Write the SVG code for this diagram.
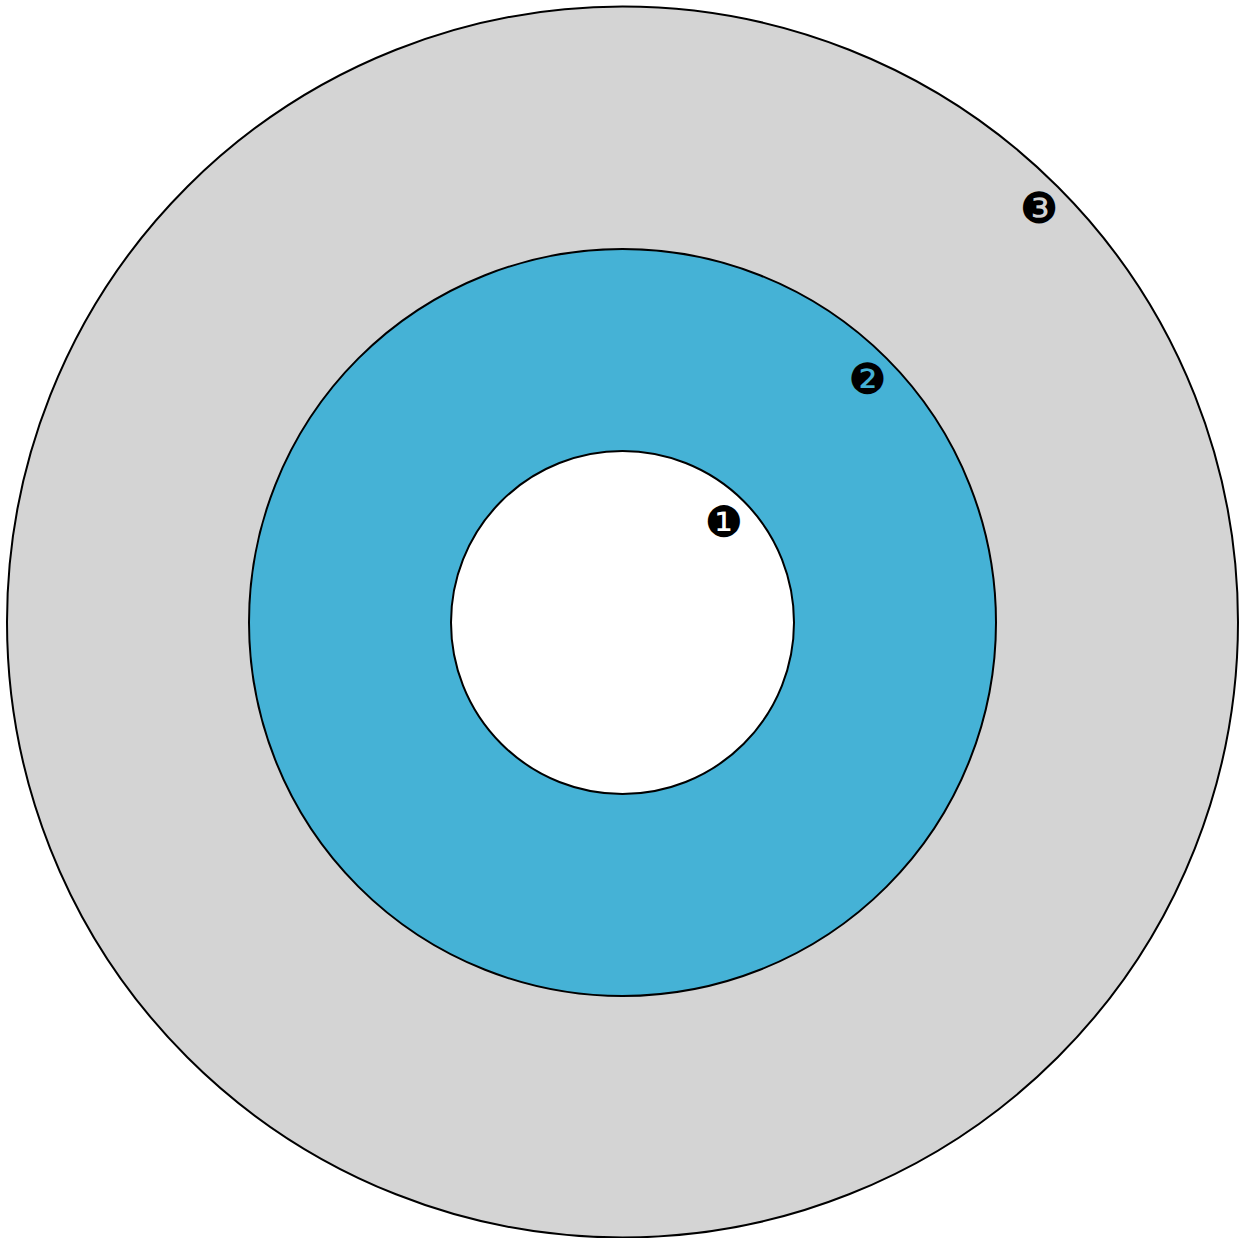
<svg xmlns="http://www.w3.org/2000/svg" width="1245" height="1238" viewBox="0 0 1245 1238">
<style>
.ring{stroke:#000;stroke-width:2}
.num{font-family:"DejaVu Sans",sans-serif;font-size:43px;fill:#000;text-anchor:middle;dominant-baseline:central}
</style>
<rect width="1245" height="1238" fill="#fff"/>
<g id="layer3"><circle class="ring" cx="622.5" cy="622" r="615.5" fill="#d4d4d4"/></g>
<g id="layer2"><circle class="ring" cx="622.5" cy="622.5" r="373.5" fill="#45b2d6"/></g>
<g id="layer1"><circle class="ring" cx="622.5" cy="622.5" r="171.5" fill="#fff"/></g>
<g id="labels">
<text id="label1" class="num" x="724" y="522">❶</text>
<text id="label2" class="num" x="867.5" y="379">❷</text>
<text id="label3" class="num" x="1039" y="208">❸</text>
</g>
</svg>
